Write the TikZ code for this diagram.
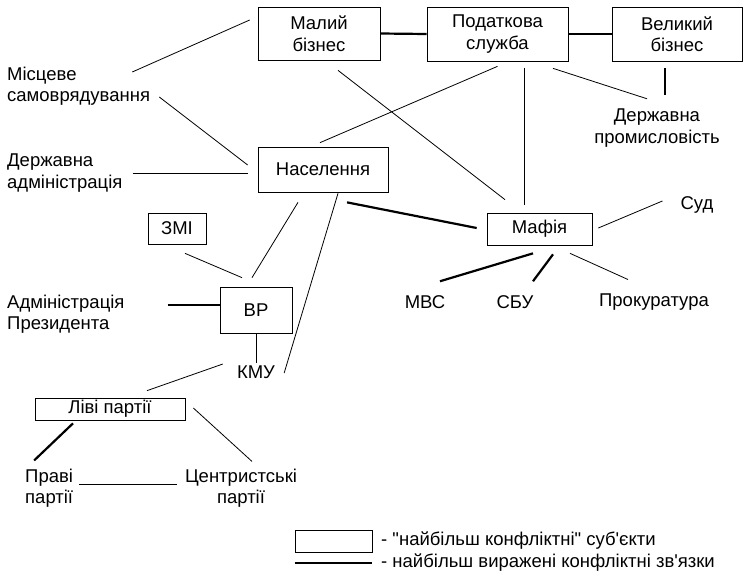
\documentclass[tikz,border=0pt]{standalone}
\usepackage{fontspec}
\setmainfont{Liberation Sans}[Ligatures=TeXOff]
\usetikzlibrary{calc}

\begin{document}
\begin{tikzpicture}[x=1pt,y=-1pt,
    every node/.style={font=\fontsize{18.5}{21.5}\selectfont},
    subject/.style={draw,line width=0.7pt,inner sep=0pt,align=center},
    txt/.style={inner sep=2pt,align=left},
    link/.style={line width=0.8pt},
    strong/.style={line width=2.2pt}]

\useasboundingbox (0,0) rectangle (747,576);

% Most conflicting subjects (boxes)
\node[subject,minimum width=122pt,minimum height=53pt] (malyi) at (319,33.5) {Малий\\бізнес};
\node[subject,minimum width=141pt,minimum height=54pt] (pod) at (497.5,34) {Податкова\\служба};
\node[subject,minimum width=130pt,minimum height=54pt] (vel) at (677,34) {Великий\\бізнес};
\node[subject,minimum width=130pt,minimum height=45pt] (nas) at (323,169.5) {Населення};
\node[subject,minimum width=58pt,minimum height=31pt] (zmi) at (177,228.5) {ЗМІ};
\node[subject,minimum width=72pt,minimum height=46pt] (vr) at (256,310) {ВР};
\node[subject,minimum width=105pt,minimum height=32pt] (mafia) at (539.5,229) {Мафія};
\node[subject,minimum width=150pt,minimum height=22pt] (livi) at (110,409) {Ліві партії};

% Other subjects
\node[txt,anchor=west] (mis) at (5,86) {Місцеве\\самоврядування};
\node[txt,anchor=west] (derzh) at (5,173) {Державна\\адміністрація};
\node[txt,align=center] (prom) at (657,128) {Державна\\промисловість};
\node[txt] (sud) at (697,205) {Суд};
\node[txt] (mvs) at (425,302) {МВС};
\node[txt] (sbu) at (515,302) {СБУ};
\node[txt] (prok) at (654,302) {Прокуратура};
\node[txt,anchor=west] (adm) at (5,314) {Адміністрація\\Президента};
\node[txt] (kmu) at (256,372) {КМУ};
\node[txt,anchor=west] (pravi) at (23,488) {Праві\\партії};
\node[txt,align=center] (centr) at (241,488) {Центристські\\партії};

% Links between the subjects
\draw[link] ($(mis.east)+(-20,-14)$) -- ($(malyi.west)+(-8,-13.5)$);
\draw[link] ($(mis.east)+(7,11)$) -- ($(nas.west)+(-10,-4.5)$);
\draw[link] ($(derzh.east)+(8,0)$) -- ($(nas.west)+(-10,3.5)$);
\draw[strong] (malyi.east) -- (pod.west);
\draw[strong] (pod.east) -- (vel.west);
\draw[link] ($(malyi.south)+(19,10)$) -- ($(mafia.north)+(-34.5,-13)$);
\draw[link] ($(pod.south)+(0,5)$) -- ($(nas.north)+(-3,-4)$);
\draw[link] ($(pod.south)+(26.5,7)$) -- ($(mafia.north)+(-15.5,-8)$);
\draw[link] ($(pod.south)+(55.5,7)$) -- ($(prom.north)+(-10,-8)$);
\draw[strong] ($(vel.south)+(-12,7)$) -- ($(prom.north)+(8,-12)$);
\draw[strong] ($(nas.south)+(24,10)$) -- ($(mafia.west)+(-10,-1)$);
\draw[link] ($(nas.south)+(-25,10)$) -- ($(vr.north)+(-4,-9)$);
\draw[link] ($(nas.south)+(15,1)$) -- ($(kmu.east)+(7,1)$);
\draw[link] ($(zmi.south)+(8,9)$) -- ($(vr.north)+(-14,-9)$);
\draw[strong] ($(adm.east)+(41,-9)$) -- ($(vr.west)+(0,-5)$);
\draw[link] (vr.south) -- (kmu.north);
\draw[link] ($(kmu.west)+(-12,-8)$) -- ($(livi.north)+(37,-7)$);
\draw[strong] ($(livi.south)+(-37,3)$) -- ($(pravi.north)+(-15,-6)$);
\draw[link] ($(livi.east)+(8,-1)$) -- ($(centr.north)+(11,-5)$);
\draw[link] ($(pravi.east)+(4,-4)$) -- ($(centr.west)+(-6,-4)$);
\draw[link] ($(mafia.east)+(6,-1)$) -- ($(sud.west)+(-16,-4)$);
\draw[strong] ($(mafia.south)+(-6.5,8)$) -- ($(mvs.north)+(15,-12)$);
\draw[strong] ($(mafia.south)+(13.5,9)$) -- ($(sbu.north)+(18,-12)$);
\draw[link] ($(mafia.south)+(30.5,8)$) -- ($(prok.north)+(-26,-12)$);

% Legend
\node[subject,minimum width=77pt,minimum height=22pt] (legbox) at (333.5,541) {};
\node[txt,anchor=west] (legsubj) at (379,541) {- "найбільш конфліктні" суб'єкти};
\node[txt,anchor=west] (leglink) at (379,563) {- найбільш виражені конфліктні зв'язки};
\draw[strong] ($(legbox.south west)+(0,11)$) -- ($(legbox.south east)+(0,11)$);

\end{tikzpicture}
\end{document}
